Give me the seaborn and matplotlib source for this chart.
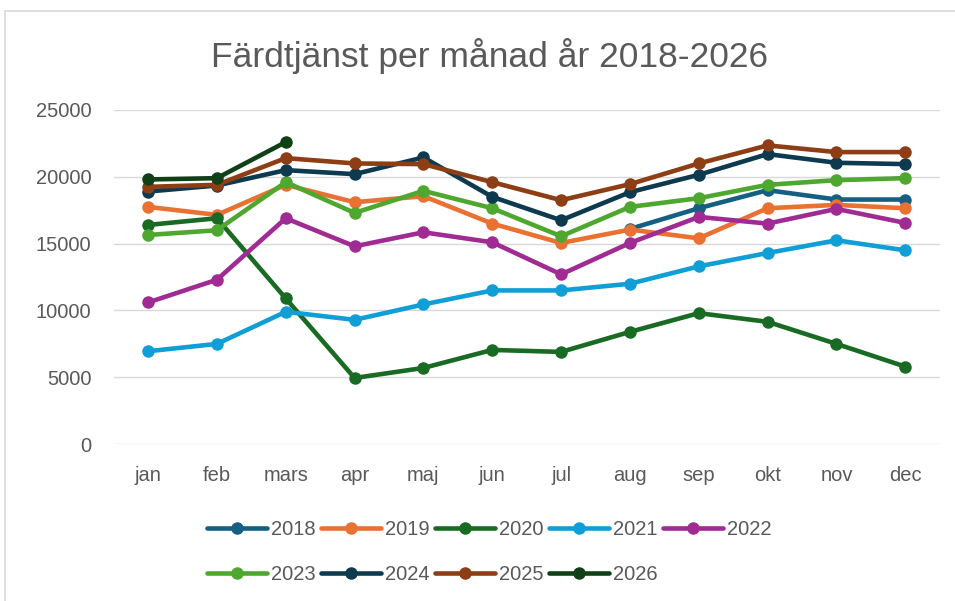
import numpy as np
import pandas as pd
import seaborn as sns
from matplotlib import pyplot as plt
from matplotlib.lines import Line2D

nan = np.nan

months = ["jan", "feb", "mars", "apr", "maj", "jun", "jul", "aug", "sep", "okt", "nov", "dec"]

y2018 = [nan, nan, nan, nan, nan, nan, nan, 16100, 17650, 19000, 18300, 18300]
y2019 = [17750, 17150, 19400, 18100, 18550, 16500, 15050, 16050, 15400, 17650, 17900, 17650]
y2020 = [16400, 16900, 10900, 4950, 5700, 7050, 6900, 8400, 9800, 9150, 7500, 5800]
y2021 = [6950, 7500, 9900, 9300, 10450, 11500, 11500, 12000, 13300, 14300, 15250, 14500]
y2022 = [10600, 12300, 16900, 14800, 15850, 15100, 12700, 15050, 17000, 16500, 17600, 16550]
y2023 = [15650, 16000, 19600, 17300, 18950, 17650, 15550, 17750, 18400, 19400, 19750, 19900]
y2024 = [18900, 19350, 20500, 20200, 21450, 18500, 16750, 18850, 20150, 21700, 21050, 20950]
y2025 = [19250, 19400, 21400, 21000, 20950, 19600, 18250, 19450, 21000, 22350, 21850, 21850]
y2026 = [19800, 19900, 22600, nan, nan, nan, nan, nan, nan, nan, nan, nan]

years = ["2018", "2019", "2020", "2021", "2022", "2023", "2024", "2025", "2026"]
series = [y2018, y2019, y2020, y2021, y2022, y2023, y2024, y2025, y2026]

colors = ["#156082", "#E97132", "#196B24", "#0F9ED5", "#A02B93",
          "#4EA72E", "#0D3A4E", "#8E3E14", "#0F4016"]

# long table for seaborn
rows = []
for yr, vals in zip(years, series):
    for i, v in enumerate(vals):
        if not np.isnan(v):
            rows.append({"month": i, "year": yr, "value": v})
df = pd.DataFrame(rows)

sns.set_style("white")
font = ["Liberation Sans", "DejaVu Sans"]
plt.rcParams["font.family"] = font
grey = "#595959"

fig = plt.figure(figsize=(9.55, 6.01), dpi=100)
ax = fig.add_axes([0.119, 0.261, 0.865, 0.556])

sns.lineplot(data=df, x="month", y="value", hue="year", hue_order=years,
             palette=colors, marker="o", markersize=9, markeredgewidth=0,
             linewidth=3.3, ax=ax, legend=True)

ax.set_xlim(-0.5, 11.5)
ax.set_ylim(0, 25000)
ax.set_yticks(range(0, 25001, 5000))
ax.set_xticks(range(12))
ax.set_xticklabels(months)
ax.set_xlabel("")
ax.set_ylabel("")
ax.grid(axis="y", color="#D9D9D9", linewidth=1)
ax.set_axisbelow(True)
for s in ax.spines.values():
    s.set_visible(False)
ax.tick_params(axis="y", length=0, labelsize=14.5, colors=grey, pad=16)
ax.tick_params(axis="x", length=0, labelsize=14.5, colors=grey, pad=16)

fig.text(0.513, 0.906, "Färdtjänst per månad år 2018-2026", ha="center", va="center",
         fontsize=25.5, color=grey)

# legend filled row by row
handles, labels = ax.get_legend_handles_labels()
ax.legend_.remove()
order = [0, 5, 1, 6, 2, 7, 3, 8, 4]
fig.legend([handles[i] for i in order], [labels[i] for i in order],
           loc="upper left", bbox_to_anchor=(0.208, 0.148), ncol=5, frameon=False,
           fontsize=14.5, labelcolor=grey, handlelength=3.0, handletextpad=0.2,
           columnspacing=0.25, labelspacing=1.3, borderaxespad=0)

# chart border (left and top only visible in the reference)
bx, by = 5 / 955, 1 - 11 / 601
fig.add_artist(Line2D([bx, bx], [0, by], transform=fig.transFigure, color="#D9D9D9", linewidth=1.2))
fig.add_artist(Line2D([bx, 1], [by, by], transform=fig.transFigure, color="#D9D9D9", linewidth=1.2))

plt.savefig("out.png", dpi=100)
